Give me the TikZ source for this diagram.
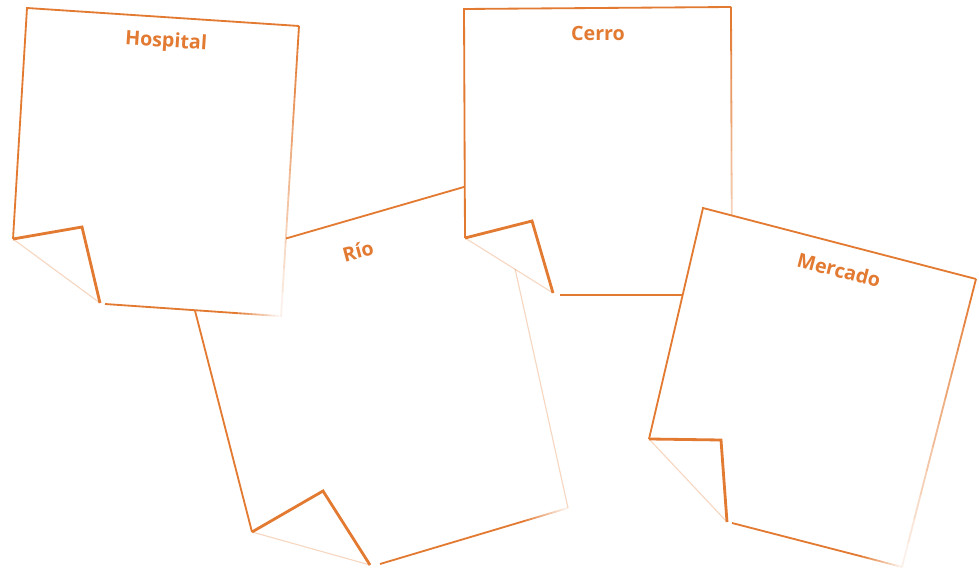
\documentclass[tikz,border=0pt]{standalone}
\usepackage{fontspec}
\setmainfont{Open Sans}
\usepackage{tikz}
\usetikzlibrary{calc}

\definecolor{noteorange}{RGB}{227,122,50}

% edge that fades out towards its second end
\newcommand{\fadeline}[2]{%
  \foreach \k in {0,...,11}{%
    \pgfmathsetmacro{\ka}{\k/12}%
    \pgfmathsetmacro{\kb}{(\k+1)/12}%
    \pgfmathsetmacro{\op}{1-0.9*\k/11}%
    \draw[edge, draw opacity=\op] ($#1!\ka!#2$) -- ($#1!\kb!#2$);
  }%
}

\begin{document}
\begin{tikzpicture}[x=0.025cm, y=-0.025cm,
    edge/.style={draw=noteorange, line width=1.3pt},
    flap/.style={draw=noteorange, line width=2pt, line join=miter},
    crease/.style={draw=noteorange, line width=0.8pt, draw opacity=0.3},
    paper/.style={fill=white},
    lbl/.style={text=noteorange, font=\fontsize{14}{16}\selectfont\bfseries}]
    \useasboundingbox (0,0) rectangle (979,569);

    % Rio note (at the back)
    \fill[paper] (184,268) -- (495,178) -- (568,508) -- (374,565) -- (252,532) -- cycle;
    \draw[edge] (252,532) -- (184,268) -- (495,178);
    \draw[crease] (495,178) -- (568,508);
    \draw[flap] (252,532) -- (323,491) -- (370,565);
    \draw[crease] (252,532) -- (370,565);
    \draw[edge] (380,564) -- (521,522);
    \fadeline{(521,522)}{(568,508)}
    \node (rio) at (358,251) [lbl, rotate=15] {Río};

    % Hospital note
    \fill[paper] (27,8) -- (299,26) -- (281,317) -- (100,303) -- (13,239) -- cycle;
    \draw[edge] (13,239) -- (27,8) -- (299,26);
    \fadeline{(299,26)}{(281,317)}
    \draw[flap] (13,239) -- (82,227) -- (100,303);
    \draw[crease] (13,239) -- (100,303);
    \draw[edge] (105,304) -- (235,313);
    \fadeline{(235,313)}{(279,316)}
    \node (hospital) at (166,42) [lbl, rotate=-3.8] {Hospital};

    % Cerro note
    \fill[paper] (464,9) -- (731,7) -- (732,295) -- (556,294) -- (465,238) -- cycle;
    \draw[edge] (465,238) -- (464,9) -- (731,7);
    \fadeline{(731,7)}{(732,295)}
    \draw[flap] (465,238) -- (532,221) -- (553,293);
    \draw[crease] (465,238) -- (553,293);
    \draw[edge] (560,295) -- (732,295);
    \node (cerro) at (598,33) [lbl] {Cerro};

    % Mercado note (in front)
    \fill[paper] (703,208) -- (976,279) -- (902,567) -- (727,522) -- (649,439) -- cycle;
    \draw[edge] (649,439) -- (703,208) -- (976,279);
    \fadeline{(976,279)}{(902,567)}
    \draw[flap] (649,439) -- (721,440) -- (727,522);
    \draw[crease] (649,439) -- (727,522);
    \draw[edge] (732,523) -- (860,556);
    \fadeline{(860,556)}{(902,567)}
    \node (mercado) at (839,270) [lbl, rotate=-14.6] {Mercado};

\end{tikzpicture}
\end{document}
